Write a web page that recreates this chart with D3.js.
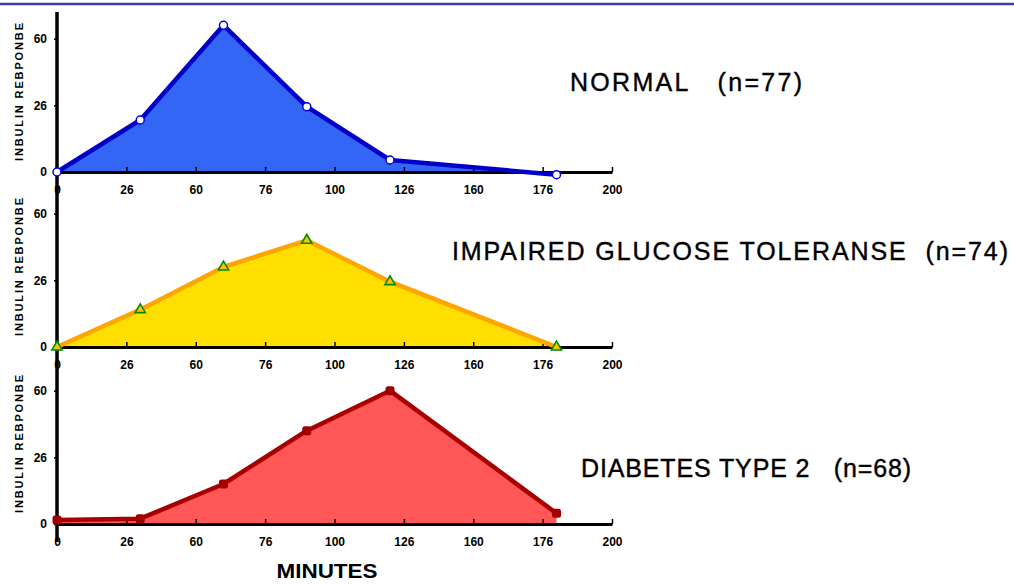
<!DOCTYPE html>
<html>
<head>
<meta charset="utf-8">
<script src="https://cdn.jsdelivr.net/npm/d3@7"></script>
<style>
  html, body { margin: 0; padding: 0; background: #fff; }
  svg { display: block; }
  .tick text { font-family: 'Liberation Sans Narrow', 'Liberation Sans', Arial, sans-serif; font-weight: bold; font-size: 12px; fill: #000; }
</style>
</head>
<body>
<div id="chart"></div>
<script>
// values
const minutes = [0, 30, 60, 90, 120, 180];
const normalValues = [0, 19.5, 55, 24.5, 4.5, -1];
const impairedValues = [0, 14, 30, 40, 24.5, 0];
const diabetesValues = [1.5, 2, 15, 35, 50, 4];

const xTickValues = [0, 25, 50, 75, 100, 125, 150, 175, 200];
const xTickLabels = ['0', '26', '60', '76', '100', '126', '160', '176', '200'];
const yTickValues = [0, 25, 50];
const yTickLabels = ['0', '26', '60'];

const panelTitles = ['NORMAL   (n=77)', 'IMPAIRED GLUCOSE TOLERANSE  (n=74)', 'DIABETES TYPE 2   (n=68)'];
const yTitle = 'INBULIN REBPONBE';
const xTitle = 'MINUTES';

const width = 1014, height = 585;
const panelHeight = 160;

const panels = [
    { values: normalValues, top: 12, line: '#0000c8', fill: '#3366f5', marker: 'circle',
      titleX: 570, titleY: 91, titleW: 232 },
    { values: impairedValues, top: 187, line: '#ffa500', fill: '#ffdf00', marker: 'triangle',
      titleX: 452, titleY: 260, titleW: 556 },
    { values: diabetesValues, top: 364, line: '#a80000', fill: '#ff5757', marker: 'dot',
      titleX: 581, titleY: 477, titleW: 330 }
];

const svg = d3.select('#chart')
    .append('svg')
    .attr('width', width)
    .attr('height', height);

// top rule
svg.append('line')
    .attr('x1', 0).attr('x2', width)
    .attr('y1', 4).attr('y2', 4)
    .attr('stroke', '#3c3cac')
    .attr('stroke-width', 2.5);

const x = d3.scaleLinear().domain([0, 200]).range([57, 612]);

panels.forEach((p, i) => {
    const y = d3.scaleLinear().domain([0, 60]).range([p.top + panelHeight, p.top]);
    const g = svg.append('g');
    const pts = minutes.map((m, j) => ({ m: m, v: p.values[j] }));

    const area = d3.area()
        .x(d => x(d.m))
        .y0(y(0))
        .y1(d => y(d.v));
    const line = d3.line()
        .x(d => x(d.m))
        .y(d => y(d.v));

    g.append('path')
        .datum(pts)
        .attr('d', area)
        .attr('fill', p.fill);

    // x axis
    const xAxis = d3.axisBottom(x)
        .tickValues(xTickValues)
        .tickFormat((d, k) => xTickLabels[k])
        .tickSizeInner(-5)
        .tickSizeOuter(0)
        .tickPadding(13);
    const xg = g.append('g')
        .attr('transform', `translate(0,${y(0)})`)
        .call(xAxis);
    xg.select('.domain').attr('stroke', '#000').attr('stroke-width', 3);
    xg.selectAll('.tick line').attr('stroke', '#000').attr('stroke-width', 1.5);

    // y axis
    const yAxis = d3.axisLeft(y)
        .tickValues(yTickValues)
        .tickFormat((d, k) => yTickLabels[k])
        .tickSizeInner(3)
        .tickSizeOuter(0)
        .tickPadding(7);
    const yg = g.append('g')
        .attr('transform', `translate(${x(0)},0)`)
        .call(yAxis);
    yg.select('.domain').remove();
    yg.append('line')
        .attr('x1', 0).attr('x2', 0)
        .attr('y1', p.top).attr('y2', y(0) + 18)
        .attr('stroke', '#000')
        .attr('stroke-width', 3.5);
    yg.selectAll('.tick line').attr('stroke', '#000').attr('stroke-width', 1.5);

    g.append('path')
        .datum(pts)
        .attr('d', line)
        .attr('fill', 'none')
        .attr('stroke', p.line)
        .attr('stroke-width', 4.5)
        .attr('stroke-linejoin', 'round');

    // markers
    const mk = g.selectAll('.mk')
        .data(pts)
        .enter();
    if (p.marker === 'circle') {
        mk.append('circle')
            .attr('cx', d => x(d.m))
            .attr('cy', d => y(d.v))
            .attr('r', 4)
            .attr('fill', '#fff')
            .attr('stroke', '#0000e0')
            .attr('stroke-width', 1.5);
    } else if (p.marker === 'triangle') {
        mk.append('path')
            .attr('d', d3.symbol().type(d3.symbolTriangle).size(45))
            .attr('transform', d => `translate(${x(d.m)},${y(d.v)})`)
            .attr('fill', '#ffc400')
            .attr('stroke', '#008a00')
            .attr('stroke-width', 1.6);
    } else {
        mk.append('rect')
            .attr('x', d => x(d.m) - 4.5)
            .attr('y', d => y(d.v) - 4.5)
            .attr('width', 9)
            .attr('height', 9)
            .attr('rx', 2.5)
            .attr('fill', '#a00000');
    }

    // y axis title
    g.append('text')
        .attr('transform', `translate(23,${p.top + panelHeight / 2}) rotate(-90)`)
        .attr('x', -69)
        .attr('textLength', 138)
        .attr('lengthAdjust', 'spacing')
        .style('font-family', "'Liberation Sans', Arial, sans-serif")
        .style('font-weight', 'bold')
        .style('font-size', '11px')
        .text(yTitle);

    // panel title
    g.append('text')
        .attr('x', p.titleX)
        .attr('y', p.titleY)
        .attr('textLength', p.titleW)
        .attr('lengthAdjust', 'spacing')
        .style('white-space', 'pre')
        .style('font-family', "'Liberation Sans', Arial, sans-serif")
        .style('font-size', '25px')
        .style('stroke', '#000')
        .style('stroke-width', 0.4)
        .text(panelTitles[i]);
});

svg.append('text')
    .attr('x', 327)
    .attr('y', 578)
    .attr('text-anchor', 'middle')
    .attr('textLength', 101)
    .attr('lengthAdjust', 'spacingAndGlyphs')
    .style('font-family', "'Liberation Sans', Arial, sans-serif")
    .style('font-weight', 'bold')
    .style('font-size', '21px')
    .text(xTitle);
</script>
</body>
</html>
